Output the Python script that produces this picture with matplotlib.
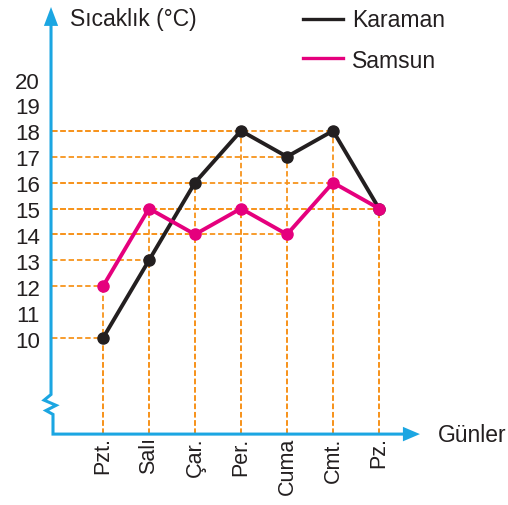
import numpy as np
import matplotlib
matplotlib.use("Agg")
import matplotlib.pyplot as plt

days = ["Pzt.", "Salı", "Çar.", "Per.", "Cuma", "Cmt.", "Pz."]
karaman = [10, 13, 16, 18, 17, 18, 15]
samsun = [12, 15, 14, 15, 14, 16, 15]
yticks = [10, 11, 12, 13, 14, 15, 16, 17, 18, 19, 20]

BLUE = "#1ba6e2"
ORANGE = "#f7941d"
PINK = "#e5007d"
DARK = "#231f20"
FS = 16.5

plt.rcParams["font.family"] = ["Liberation Sans", "DejaVu Sans"]

my_dpi = 100
W, H = 508, 506
fig = plt.figure(figsize=(W / my_dpi, H / my_dpi), dpi=my_dpi)
ax = fig.add_axes([0, 0, 1, 1])
ax.set_axis_off()

# pixel scale of the reference: 46 px per day, 25.9 px per degree
ax.set_xlim(-103 / 46, (W - 103) / 46)
ax.set_ylim(10 - (H - 339) / 25.9, 10 + 339 / 25.9)

x = np.arange(len(days))
x0 = -1.10     # y axis position
y0 = 6.29      # x axis position

# dashed guide lines
dash = dict(color=ORANGE, lw=1.3, linestyle=(0, (3.0, 1.6)), zorder=1)
for xs, vals in [(x, karaman), (x, samsun)]:
    for xi, v in zip(xs, vals):
        ax.plot([x0, xi], [v, v], **dash)
        ax.plot([xi, xi], [y0, v], **dash)

# axes with arrows and break
ax.plot([-1.13, -1.13, -1.28, -1.02, -1.24, -1.087, -1.087, 6.6],
        [22.1, 7.82, 7.6, 7.4, 7.2, 7.05, y0, y0],
        color=BLUE, lw=2.2, zorder=2, solid_joinstyle="miter")
ax.fill([-1.13 - 0.155, -1.13 + 0.155, -1.13], [22.05, 22.05, 22.78],
        color=BLUE, lw=0, zorder=2)
ax.fill([6.52, 6.52, 6.89], [y0 + 0.28, y0 - 0.28, y0],
        color=BLUE, lw=0, zorder=2)

# series
ax.plot(x, karaman, color=DARK, lw=2.8, marker="o", ms=8, zorder=3)
ax.plot(x, samsun, color=PINK, lw=2.8, marker="o", ms=8, zorder=3)

# tick labels
for t in yticks:
    ax.text(-1.37, t - 0.33, str(t), ha="right", va="baseline", fontsize=16,
            color=DARK)
for xi, d in zip(x, days):
    ax.text(xi, 6.2, d, rotation=90, ha="center", va="top", fontsize=15.5,
            color=DARK)

ax.text(-0.71, 22.08, "Sıcaklık (°C)", ha="left", va="baseline", fontsize=FS,
        color=DARK)
ax.text(7.28, 6.02, "Günler", ha="left", va="baseline", fontsize=FS,
        color=DARK)

# legend
ax.plot([4.35, 5.22], [22.32, 22.32], color=DARK, lw=2.4)
ax.plot([4.35, 5.22], [20.81, 20.81], color=PINK, lw=2.4)
ax.text(5.41, 22.05, "Karaman", ha="left", va="baseline", fontsize=FS,
        color=DARK)
ax.text(5.41, 20.45, "Samsun", ha="left", va="baseline", fontsize=FS,
        color=DARK)

fig.savefig("out.png", dpi=my_dpi, facecolor="white")
